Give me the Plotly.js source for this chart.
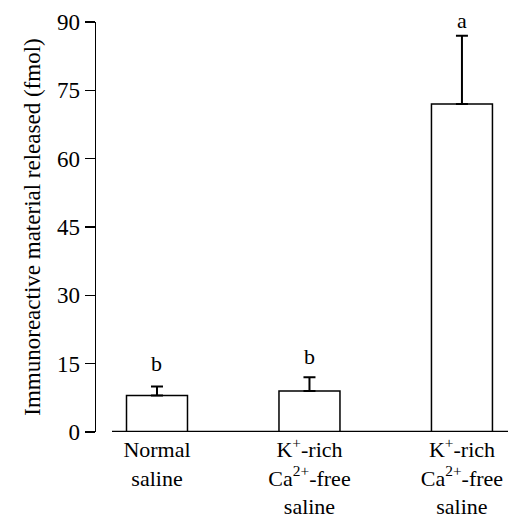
<!DOCTYPE html>
<html><head><meta charset="utf-8">
<script src="https://cdn.plot.ly/plotly-3.0.1.min.js"></script>
<style>html,body{margin:0;padding:0;background:#fff;}#chart{width:508px;height:520px;}</style>
</head><body><div id="chart"></div>
<script>
const categories = ["Normal<br>saline", "K<sup>+</sup>-rich<br>Ca<sup>2+</sup>-free<br>saline", "K<sup>+</sup>-rich<br>Ca<sup>2+</sup>-free<br>saline"];
const values = [8, 9, 72];
const errors = [2, 3, 15];
const letters = ["b", "b", "a"];
const yTicks = [0, 15, 30, 45, 60, 75, 90];

const xs = categories.map((c, i) => i);
const font = {family: "Liberation Serif, Times New Roman, serif", color: "#000"};
const letterShift = [8, 6, 1];

const trace = {
  type: "bar", x: xs, y: values, width: 0.4,
  marker: {color: "#fff", line: {color: "#000", width: 1.5}},
  error_y: {type: "data", symmetric: false, array: errors, arrayminus: values.map(() => 0),
            color: "#000", thickness: 2, width: 6},
  hoverinfo: "none"
};

const layout = {
  width: 508, height: 520,
  margin: {l: 96, r: 0, t: 22, b: 88},
  paper_bgcolor: "#fff", plot_bgcolor: "#fff",
  showlegend: false,
  font: Object.assign({size: 22}, font),
  xaxis: {range: [-0.4, 2.302], tickvals: xs, ticktext: categories, showline: false,
          zeroline: false, showgrid: false, ticks: "", ticklabelstandoff: 2,
          tickfont: Object.assign({size: 22}, font)},
  yaxis: {range: [0, 90], tickvals: yTicks, ticktext: yTicks.map(String), showline: true,
          linecolor: "#000", linewidth: 1.5, ticks: "outside", ticklen: 10, tickwidth: 1.5,
          tickcolor: "#000", showgrid: false, zeroline: false,
          tickfont: Object.assign({size: 23}, font),
          title: {text: "Immunoreactive material released (fmol)", font: Object.assign({size: 23}, font), standoff: 10}},
  shapes: [{type: "line", xref: "paper", yref: "y", x0: 16/412, x1: 1, y0: 0, y1: 0,
            line: {color: "#000", width: 2.5}}],
  annotations: values.map((v, i) => ({x: i, y: v + errors[i], xref: "x", yref: "y", text: letters[i],
            showarrow: false, yanchor: "bottom", yshift: letterShift[i], font: Object.assign({size: 22}, font)}))
};

Plotly.newPlot("chart", [trace], layout, {staticPlot: true});
</script></body></html>
